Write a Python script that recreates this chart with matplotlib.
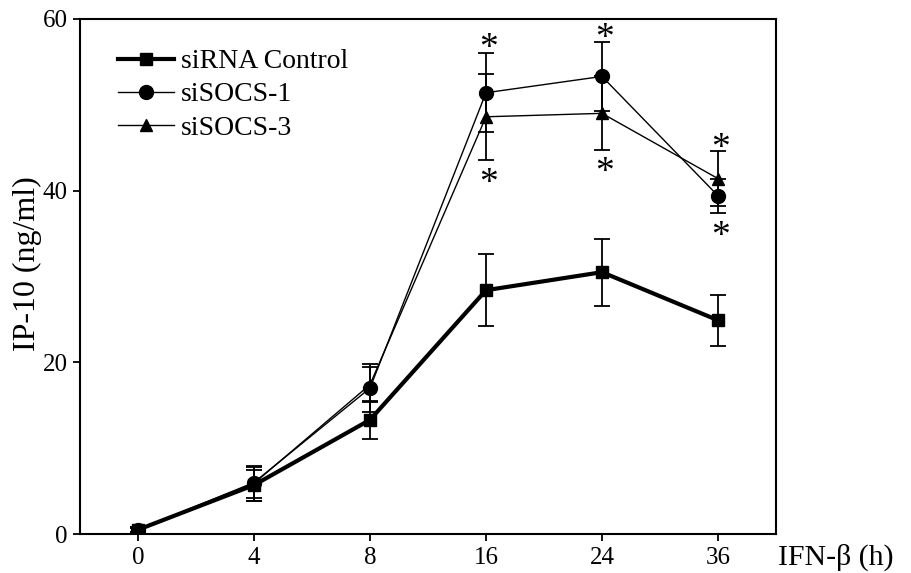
import matplotlib
matplotlib.use('Agg')
from matplotlib import pyplot as plt
from matplotlib.lines import Line2D

# horas de IFN-beta (eje categórico)
times = ['0', '4', '8', '16', '24', '36']

ctrl = [0.5, 5.7, 13.3, 28.4, 30.5, 24.9]
ctrl_err = [0.3, 1.8, 2.2, 4.2, 3.9, 3.0]

socs1 = [0.5, 6.0, 17.0, 51.4, 53.3, 39.4]
socs1_err = [0.3, 1.8, 2.8, 4.6, 4.0, 2.0]

socs3 = [0.4, 5.9, 17.4, 48.6, 49.0, 41.4]
socs3_err = [0.3, 2.0, 2.0, 5.0, 4.3, 3.2]

# asteriscos de significancia
star_idx = [3, 3, 4, 4, 5, 5]
star_y = [57.3, 41.5, 58.5, 42.8, 45.6, 35.4]

plt.rcParams['font.family'] = ['Liberation Serif', 'DejaVu Serif']

fig = plt.figure(figsize=(9.11, 5.73), dpi=100)
ax = fig.add_axes([0.0878, 0.068, 0.764, 0.899])

x = list(range(len(times)))

ax.errorbar(x, socs3, yerr=socs3_err, color='black', lw=1.0, marker='^',
            ms=9, capsize=5.5, elinewidth=1.3, capthick=1.3, zorder=3)
ax.errorbar(x, socs1, yerr=socs1_err, color='black', lw=1.0, marker='o',
            ms=10, capsize=5.5, elinewidth=1.3, capthick=1.3, zorder=3)
ax.errorbar(x, ctrl, yerr=ctrl_err, color='black', lw=3.0, marker='s',
            ms=9, capsize=5.5, elinewidth=1.3, capthick=1.3, zorder=4)

star_fs = 27
for i, yv in zip(star_idx, star_y):
    ax.annotate('*', (i, yv), xytext=(2, -0.42 * star_fs), textcoords='offset points',
                ha='center', va='baseline', fontsize=star_fs)

ax.set_xlim(-0.5, 5.5)
ax.set_ylim(0, 60)
ax.set_xticks(x)
ax.set_xticklabels(times)
ax.set_yticks([0, 20, 40, 60])
ax.tick_params(direction='out', length=5, width=1.3, labelsize=18, pad=4)
for s in ax.spines.values():
    s.set_linewidth(1.5)

ax.set_ylabel('IP-10 (ng/ml)', fontsize=23)
ax.yaxis.set_label_coords(-0.055, 0.524)
ax.text(1.003, -0.060, 'IFN-β (h)', transform=ax.transAxes, fontsize=21.5,
        ha='left', va='baseline')

handles = [
    Line2D([], [], color='black', lw=3.0, marker='s', ms=9),
    Line2D([], [], color='black', lw=1.0, marker='o', ms=10),
    Line2D([], [], color='black', lw=1.0, marker='^', ms=9),
]
labels = ['siRNA Control', 'siSOCS-1', 'siSOCS-3']
ax.legend(handles, labels, loc='upper left', bbox_to_anchor=(0.055, 0.942),
          frameon=False, fontsize=20, handlelength=2.0, handletextpad=0.25,
          labelspacing=0.28, borderaxespad=0, borderpad=0)

fig.savefig('out.png', dpi=100)
